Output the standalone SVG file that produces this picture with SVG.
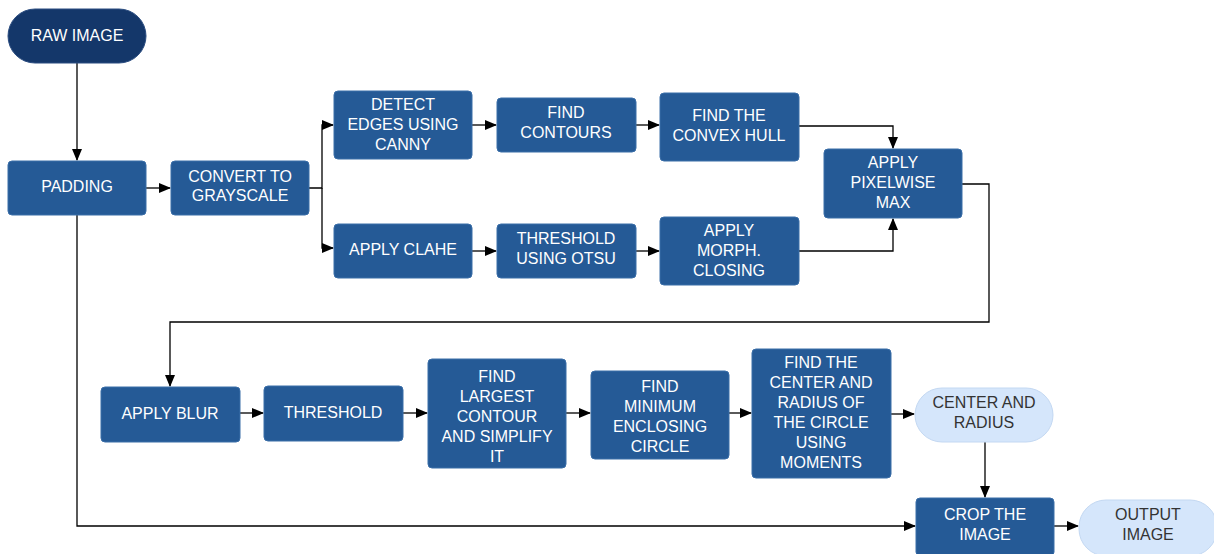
<svg xmlns="http://www.w3.org/2000/svg" width="1214" height="554" viewBox="0 0 1214 554">
  <defs>
    <marker id="arrow" markerWidth="12" markerHeight="10" refX="11" refY="5" orient="auto" markerUnits="userSpaceOnUse">
      <path d="M0,0 L12,5 L0,10 Z" fill="#000"/>
    </marker>
    <style>
      .step { fill: #255a96; stroke: #3a6ea8; stroke-width: 1; }
      .term { fill: #14376a; stroke: #2a4c80; stroke-width: 1; }
      .io { fill: #d5e6fb; stroke: #c3d8f2; stroke-width: 1; }
      .lbl { font-family: "Liberation Sans", Arial, sans-serif; font-size: 16px; fill: #ffffff; text-anchor: middle; }
      .lbl-dark { font-family: "Liberation Sans", Arial, sans-serif; font-size: 16px; fill: #333333; text-anchor: middle; }
      .wire { fill: none; stroke: #000; stroke-width: 1.3; }
    </style>
  </defs>
  <rect width="1214" height="554" fill="#ffffff"/>

  <!-- connectors -->
  <g id="connectors">
    <path class="wire" d="M77,63 V160" marker-end="url(#arrow)"/>
    <path class="wire" d="M146,188 H170" marker-end="url(#arrow)"/>
    <path class="wire" d="M309,188 H322 V125 H333" marker-end="url(#arrow)"/>
    <path class="wire" d="M322,188 V248 H333" marker-end="url(#arrow)"/>
    <path class="wire" d="M472,125 H496" marker-end="url(#arrow)"/>
    <path class="wire" d="M636,125 H659" marker-end="url(#arrow)"/>
    <path class="wire" d="M472,251 H496" marker-end="url(#arrow)"/>
    <path class="wire" d="M636,251 H659" marker-end="url(#arrow)"/>
    <path class="wire" d="M799,126 H893 V148" marker-end="url(#arrow)"/>
    <path class="wire" d="M799,251 H893 V219" marker-end="url(#arrow)"/>
    <path class="wire" d="M962,184 H989 V322 H170 V386" marker-end="url(#arrow)"/>
    <path class="wire" d="M240,413 H263" marker-end="url(#arrow)"/>
    <path class="wire" d="M403,413 H427" marker-end="url(#arrow)"/>
    <path class="wire" d="M566,413 H590" marker-end="url(#arrow)"/>
    <path class="wire" d="M729,413 H751" marker-end="url(#arrow)"/>
    <path class="wire" d="M891,414 H914" marker-end="url(#arrow)"/>
    <path class="wire" d="M985,442 V497" marker-end="url(#arrow)"/>
    <path class="wire" d="M77,215 V526 H915" marker-end="url(#arrow)"/>
    <path class="wire" d="M1054,526 H1078" marker-end="url(#arrow)"/>
  </g>

  <g id="raw-image">
    <rect class="term" x="8" y="9" width="138" height="54" rx="27"/>
    <text class="lbl" x="77" y="41">RAW IMAGE</text>
  </g>
  <g id="padding">
    <rect class="step" x="8" y="161" width="138" height="54" rx="4"/>
    <text class="lbl" x="77" y="192">PADDING</text>
  </g>
  <g id="grayscale">
    <rect class="step" x="171" y="161" width="138" height="54" rx="4"/>
    <text class="lbl" x="240" y="182">CONVERT TO</text>
    <text class="lbl" x="240" y="201">GRAYSCALE</text>
  </g>
  <g id="canny">
    <rect class="step" x="334" y="91" width="138" height="68" rx="4"/>
    <text class="lbl" x="403" y="110">DETECT</text>
    <text class="lbl" x="403" y="130">EDGES USING</text>
    <text class="lbl" x="403" y="150">CANNY</text>
  </g>
  <g id="contours">
    <rect class="step" x="497" y="98" width="139" height="54" rx="4"/>
    <text class="lbl" x="566" y="118">FIND</text>
    <text class="lbl" x="566" y="138">CONTOURS</text>
  </g>
  <g id="convex-hull">
    <rect class="step" x="660" y="93" width="139" height="68" rx="4"/>
    <text class="lbl" x="729" y="121">FIND THE</text>
    <text class="lbl" x="729" y="141">CONVEX HULL</text>
  </g>
  <g id="clahe">
    <rect class="step" x="334" y="224" width="138" height="54" rx="4"/>
    <text class="lbl" x="403" y="255">APPLY CLAHE</text>
  </g>
  <g id="otsu">
    <rect class="step" x="497" y="224" width="139" height="54" rx="4"/>
    <text class="lbl" x="566" y="244">THRESHOLD</text>
    <text class="lbl" x="566" y="264">USING OTSU</text>
  </g>
  <g id="morph-closing">
    <rect class="step" x="660" y="217" width="139" height="68" rx="4"/>
    <text class="lbl" x="729" y="236">APPLY</text>
    <text class="lbl" x="729" y="256">MORPH.</text>
    <text class="lbl" x="729" y="276">CLOSING</text>
  </g>
  <g id="pixelwise-max">
    <rect class="step" x="824" y="149" width="138" height="69" rx="4"/>
    <text class="lbl" x="893" y="168">APPLY</text>
    <text class="lbl" x="893" y="188">PIXELWISE</text>
    <text class="lbl" x="893" y="208">MAX</text>
  </g>
  <g id="blur">
    <rect class="step" x="101" y="387" width="139" height="55" rx="4"/>
    <text class="lbl" x="170" y="419">APPLY BLUR</text>
  </g>
  <g id="threshold">
    <rect class="step" x="264" y="386" width="139" height="55" rx="4"/>
    <text class="lbl" x="333" y="418">THRESHOLD</text>
  </g>
  <g id="largest-contour">
    <rect class="step" x="428" y="359" width="138" height="109" rx="4"/>
    <text class="lbl" x="497" y="382">FIND</text>
    <text class="lbl" x="497" y="402">LARGEST</text>
    <text class="lbl" x="497" y="422">CONTOUR</text>
    <text class="lbl" x="497" y="442">AND SIMPLIFY</text>
    <text class="lbl" x="497" y="462">IT</text>
  </g>
  <g id="enclosing-circle">
    <rect class="step" x="591" y="371" width="138" height="88" rx="4"/>
    <text class="lbl" x="660" y="392">FIND</text>
    <text class="lbl" x="660" y="412">MINIMUM</text>
    <text class="lbl" x="660" y="432">ENCLOSING</text>
    <text class="lbl" x="660" y="452">CIRCLE</text>
  </g>
  <g id="moments">
    <rect class="step" x="752" y="349" width="139" height="129" rx="4"/>
    <text class="lbl" x="821" y="368">FIND THE</text>
    <text class="lbl" x="821" y="388">CENTER AND</text>
    <text class="lbl" x="821" y="408">RADIUS OF</text>
    <text class="lbl" x="821" y="428">THE CIRCLE</text>
    <text class="lbl" x="821" y="448">USING</text>
    <text class="lbl" x="821" y="468">MOMENTS</text>
  </g>
  <g id="center-radius">
    <rect class="io" x="915" y="388" width="138" height="54" rx="27"/>
    <text class="lbl-dark" x="984" y="408">CENTER AND</text>
    <text class="lbl-dark" x="984" y="428">RADIUS</text>
  </g>
  <g id="crop">
    <rect class="step" x="916" y="498" width="138" height="58" rx="4"/>
    <text class="lbl" x="985" y="520">CROP THE</text>
    <text class="lbl" x="985" y="540">IMAGE</text>
  </g>
  <g id="output-image">
    <rect class="io" x="1079" y="500" width="138" height="56" rx="27"/>
    <text class="lbl-dark" x="1148" y="520">OUTPUT</text>
    <text class="lbl-dark" x="1148" y="540">IMAGE</text>
  </g>
</svg>
